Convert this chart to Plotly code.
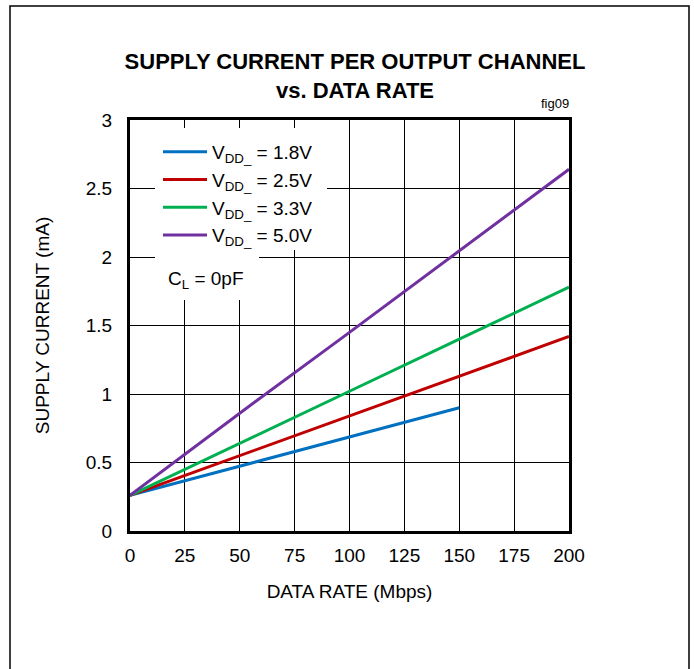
import plotly.graph_objects as go

rate = [0, 50, 100, 150, 200]
rate_18 = [0, 50, 100, 150]
i_18 = [0.26, 0.475, 0.686, 0.90]
i_25 = [0.26, 0.55, 0.84, 1.135, 1.42]
i_33 = [0.26, 0.637, 1.02, 1.40, 1.78]
i_50 = [0.26, 0.86, 1.45, 2.045, 2.64]

series = [
    ("V<sub>DD_</sub> = 1.8V", rate_18, i_18, "#0070C0"),
    ("V<sub>DD_</sub> = 2.5V", rate, i_25, "#C00000"),
    ("V<sub>DD_</sub> = 3.3V", rate, i_33, "#00B050"),
    ("V<sub>DD_</sub> = 5.0V", rate, i_50, "#7030A0"),
]

FONT = "Liberation Sans, Arial, sans-serif"

fig = go.Figure()
for k, (name, xs, ys, col) in enumerate(series):
    fig.add_trace(go.Scatter(x=xs, y=ys, mode="lines", name=name,
                             legendgroup=str(k),
                             line=dict(color=col, width=3)))

W, H = 694, 669
L, R, T, B = 130, 569, 120, 531
pw, ph = R - L, B - T

def px2x(px):
    return (px - L) / pw

def py2y(py):
    return (B - py) / ph

fig.update_layout(
    width=W, height=H,
    margin=dict(l=L, r=W - R, t=T, b=H - B),
    paper_bgcolor="white", plot_bgcolor="white",
    font=dict(family=FONT, color="black", size=19),
    title=dict(text="<b>SUPPLY CURRENT PER OUTPUT CHANNEL<br>vs. DATA RATE</b>",
               x=px2x(355), xref="paper", xanchor="center",
               y=1 - 69 / H, yref="container", yanchor="top",
               font=dict(family=FONT, size=22, color="black")),
    showlegend=True,
    legend=dict(x=px2x(158), y=py2y(133), xanchor="left", yanchor="top",
                bgcolor="rgba(0,0,0,0)", font=dict(family=FONT, size=19),
                tracegroupgap=3, traceorder="normal", itemwidth=44),
    xaxis=dict(range=[0, 200], tickvals=[0, 25, 50, 75, 100, 125, 150, 175, 200],
               showgrid=True, gridcolor="black", gridwidth=1,
               showline=True, linecolor="black", linewidth=3, mirror=True,
               zeroline=False, ticks="", ticklabelstandoff=5,
               title=dict(text="DATA RATE (Mbps)", standoff=20,
                          font=dict(family=FONT, size=19))),
    yaxis=dict(range=[0, 3], tickvals=[0, 0.5, 1, 1.5, 2, 2.5, 3],
               ticktext=["0", "0.5", "1", "1.5", "2", "2.5", "3"],
               showgrid=True, gridcolor="black", gridwidth=1,
               showline=True, linecolor="black", linewidth=3, mirror=True,
               zeroline=False, ticks="", ticklabelstandoff=11,
               title=dict(text="SUPPLY CURRENT (mA)", standoff=32,
                          font=dict(family=FONT, size=19))),
)

# white areas behind legend and note
fig.add_shape(type="rect", xref="paper", yref="paper",
              x0=px2x(155), x1=px2x(327), y0=py2y(250), y1=py2y(128),
              fillcolor="white", line=dict(width=0), layer="above")
fig.add_shape(type="rect", xref="paper", yref="paper",
              x0=px2x(155), x1=px2x(259), y0=py2y(300), y1=py2y(250),
              fillcolor="white", line=dict(width=0), layer="above")

# outer frame
fig.add_shape(type="rect", xref="paper", yref="paper",
              x0=px2x(10), x1=px2x(689), y0=py2y(700), y1=py2y(6),
              line=dict(color="black", width=1.5), fillcolor="rgba(0,0,0,0)",
              layer="above")

fig.add_annotation(text="C<sub>L</sub> = 0pF", xref="paper", yref="paper",
                   x=px2x(166), y=py2y(280), xanchor="left", showarrow=False,
                   font=dict(family=FONT, size=19))
fig.add_annotation(text="fig09", xref="paper", yref="paper",
                   x=px2x(571), y=py2y(113), xanchor="right", yanchor="bottom",
                   showarrow=False, font=dict(family=FONT, size=13))

fig.write_html("out.html", config={"displayModeBar": False},
               post_script="document.body.style.margin='0';")
